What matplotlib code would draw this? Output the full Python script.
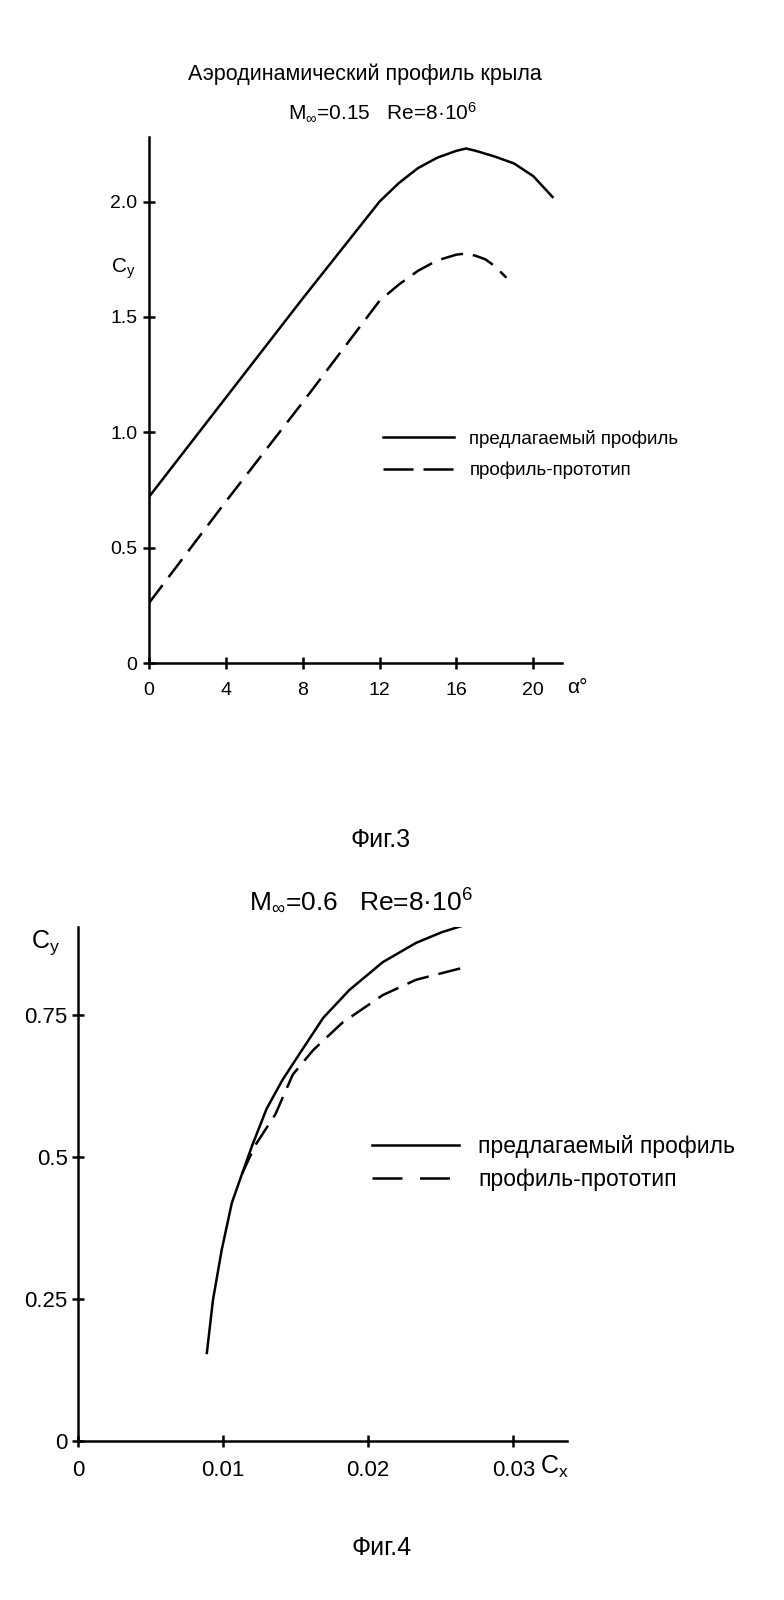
import matplotlib
matplotlib.use("Agg")
import matplotlib.pyplot as plt
from matplotlib.lines import Line2D

plt.rcParams["font.family"] = ["Liberation Sans", "DejaVu Sans"]
plt.rcParams["mathtext.fontset"] = "custom"
plt.rcParams["mathtext.rm"] = "Liberation Sans"
plt.rcParams["mathtext.it"] = "Liberation Sans:italic"
plt.rcParams["mathtext.default"] = "regular"

# Фиг.3 — Cy(alpha), M=0.15
alpha_new = [0, 2, 4, 6, 8, 10, 12, 13, 14, 15, 16, 16.5, 17, 18, 19, 20, 21]
cy_alpha_new = [0.72, 0.935, 1.15, 1.365, 1.58, 1.79, 2.00, 2.08, 2.145, 2.19,
                2.22, 2.23, 2.22, 2.195, 2.165, 2.11, 2.02]
alpha_proto = [0, 4, 8, 12, 13, 14, 15, 16, 16.5, 17, 17.5, 18, 18.6]
cy_alpha_proto = [0.26, 0.70, 1.13, 1.57, 1.64, 1.70, 1.745, 1.77, 1.775,
                  1.765, 1.75, 1.72, 1.67]
alpha_ticks = [0, 4, 8, 12, 16, 20]
cy3_ticks = [0, 0.5, 1.0, 1.5, 2.0]
cy3_labels = ["0", "0.5", "1.0", "1.5", "2.0"]

# Фиг.4 — Cy(Cx), M=0.6
cx_new = [0.00888, 0.0093, 0.0099, 0.0106, 0.0113, 0.0120, 0.0130, 0.0141,
          0.0153, 0.0169, 0.0187, 0.0210, 0.0233, 0.0251, 0.0271]
cy_cx_new = [0.155, 0.248, 0.336, 0.419, 0.47, 0.52, 0.585, 0.636, 0.683,
             0.745, 0.794, 0.843, 0.877, 0.896, 0.912]
cx_proto = [0.0113, 0.0122, 0.0136, 0.0148, 0.0162, 0.0182, 0.0210, 0.0233,
            0.0268]
cy_cx_proto = [0.47, 0.52, 0.575, 0.645, 0.688, 0.736, 0.785, 0.812, 0.835]
cx_ticks = [0, 0.01, 0.02, 0.03]
cx_labels = ["0", "0.01", "0.02", "0.03"]
cy4_ticks = [0, 0.25, 0.5, 0.75]
cy4_labels = ["0", "0.25", "0.5", "0.75"]

label_new = "предлагаемый профиль"
label_proto = "профиль-прототип"

LW = 1.8
DASH = (0, (9, 4))

fig = plt.figure(figsize=(7.84, 16), dpi=100)
fig.patch.set_facecolor("white")


def style_axes(ax, fs):
    for s in ["top", "right"]:
        ax.spines[s].set_visible(False)
    for s in ["left", "bottom"]:
        ax.spines[s].set_linewidth(1.8)
    ax.tick_params(direction="inout", length=9, width=1.8, labelsize=fs,
                   colors="black")


# ---- Фиг.3 ----
ax1 = fig.add_axes([0.190, 0.5856, 0.527, 0.3288])
ax1.plot(alpha_new, cy_alpha_new, color="black", lw=LW)
ax1.plot(alpha_proto, cy_alpha_proto, color="black", lw=LW, linestyle=DASH)
ax1.set_xlim(0, 21.5)
ax1.set_ylim(0, 2.28)
ax1.set_xticks(alpha_ticks)
ax1.set_yticks(cy3_ticks)
ax1.set_yticklabels(cy3_labels)
style_axes(ax1, 14)
ax1.tick_params(axis="x", pad=9)
ax1.tick_params(axis="y", pad=4)
ax1.set_ylabel("C$_y$", rotation=0, fontsize=15, ha="center", va="center")
ax1.yaxis.set_label_coords(-0.062, 0.75)
ax1.set_xlabel("α°", fontsize=15, ha="center", va="center")
ax1.xaxis.set_label_coords(1.036, -0.046)

h_new = Line2D([], [], color="black", lw=LW)
h_proto3 = Line2D([], [], color="black", lw=LW, linestyle=(0, (12, 4)))
ax1.legend([h_new, h_proto3], [label_new, label_proto], loc="center left",
           bbox_to_anchor=(0.567, 0.396), frameon=False, fontsize=13.5,
           handlelength=3.8, handletextpad=0.8, labelspacing=0.75,
           borderpad=0, borderaxespad=0)

fig.text(365 / 784, 1 - 74 / 1600, "Аэродинамический профиль крыла",
         ha="center", va="center", fontsize=15.5)
fig.text(383 / 784, 1 - 112 / 1600, r"M$_{\infty}$=0.15   Re=8·10$^{6}$",
         ha="center", va="center", fontsize=15)
fig.text(381 / 784, 1 - 840 / 1600, "Фиг.3", ha="center", va="center",
         fontsize=18)

# ---- Фиг.4 ----
ax2 = fig.add_axes([0.0995, 0.0994, 0.6237, 0.32125])
ax2.plot(cx_new, cy_cx_new, color="black", lw=LW)
ax2.plot(cx_proto, cy_cx_proto, color="black", lw=LW, linestyle=DASH)
ax2.set_xlim(0, 0.0337)
ax2.set_ylim(0, 0.905)
ax2.set_xticks(cx_ticks)
ax2.set_xticklabels(cx_labels)
ax2.set_yticks(cy4_ticks)
ax2.set_yticklabels(cy4_labels)
style_axes(ax2, 16)
ax2.tick_params(axis="x", pad=9)
ax2.tick_params(axis="y", pad=3)
ax2.set_ylabel("C$_y$", rotation=0, fontsize=18, ha="center", va="center")
ax2.yaxis.set_label_coords(-0.067, 0.969)
ax2.set_xlabel("C$_x$", fontsize=18, ha="center", va="center")
ax2.xaxis.set_label_coords(0.975, -0.05)

h_proto4 = Line2D([], [], color="black", lw=LW, linestyle=(0, (12, 7)))
ax2.legend([h_new, h_proto4], [label_new, label_proto], loc="center left",
           bbox_to_anchor=(0.601, 0.541), frameon=False, fontsize=16.5,
           handlelength=3.8, handletextpad=0.85, labelspacing=0.45,
           borderpad=0, borderaxespad=0)

fig.text(361 / 784, 1 - 900 / 1600, r"M$_{\infty}$=0.6   Re=8·10$^{6}$",
         ha="center", va="center", fontsize=19)
fig.text(382 / 784, 1 - 1548 / 1600, "Фиг.4", ha="center", va="center",
         fontsize=18)

fig.savefig("out.png", dpi=100, facecolor="white")
